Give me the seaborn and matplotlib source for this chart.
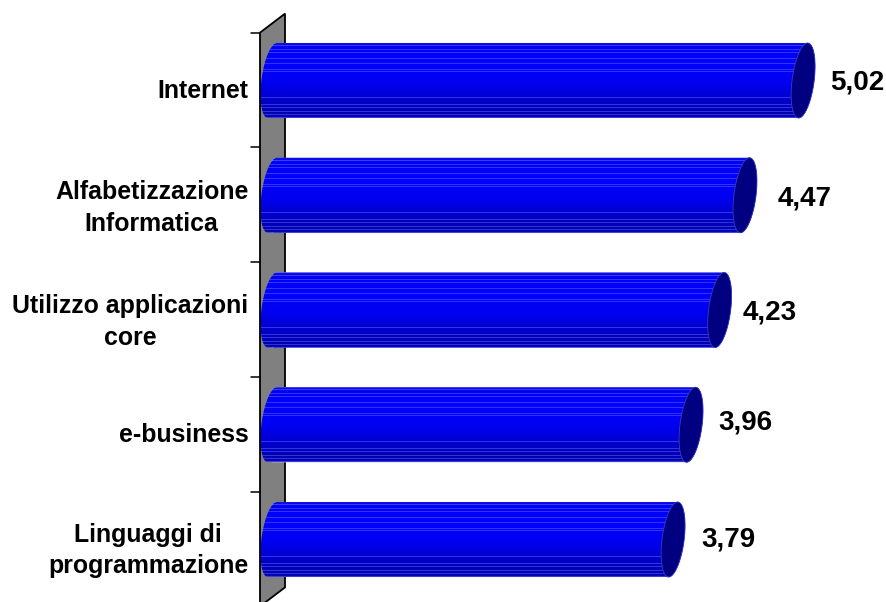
import numpy as np
import pandas as pd
import matplotlib
matplotlib.use("Agg")
import matplotlib.pyplot as plt
from matplotlib.patches import Polygon
from matplotlib.colors import to_rgb
import seaborn as sns

categories = ["Internet", "Alfabetizzazione\nInformatica", "Utilizzo applicazioni\ncore",
              "e-business", "Linguaggi di\nprogrammazione"]
values = [5.02, 4.47, 4.23, 3.96, 3.79]

# Shading of the cylinder from its top edge to its bottom edge: (fraction, colour)
shade_stops = [(0.00, "#1818e0"), (0.03, "#0808e8"), (0.08, "#0000f4"), (0.30, "#0000ff"),
               (0.55, "#0000ee"), (0.72, "#0000d0"), (0.95, "#0000b0"), (0.985, "#0000b8"),
               (1.00, "#3c3cd8")]
streaks = [0.04, 0.10, 0.14, 0.21, 0.28, 0.36, 0.39, 0.73, 0.83, 0.87, 0.92, 0.96]

# Hand placement of the value labels and of the category labels, in pixels
value_nudge = [(1, 4), (7, 5), (-3, 5), (1, 0), (2, 2)]
label_drop = [10.5, 13, 12, 10, 11]

sns.set_theme(style="white", rc={"font.family": ["Liberation Sans", "DejaVu Sans"]})
W, H = 887, 602
fig = plt.figure(figsize=(W / 100, H / 100), dpi=100)
ax = fig.add_axes([0, 0, 1, 1])

df = pd.DataFrame({"area": categories, "score": values})
sns.barplot(data=df, y="area", x="score", orient="h", width=0.654, color="#0000ff",
            saturation=1, ax=ax)

px_per_unit = 105.7
px_per_cat = 114.75
x0_px, y0_px = 272.5, 80.5
xlim = (-x0_px / px_per_unit, (W - x0_px) / px_per_unit)
ylim = ((H - y0_px) / px_per_cat, -y0_px / px_per_cat)
ax.set_xlim(xlim)
ax.set_ylim(ylim)
ax.axis("off")

ux, uy = 1 / px_per_unit, 1 / px_per_cat  # data units for one pixel

# Receding wall behind the bars
dx, dy = 12.5 * ux, 9.5 * uy
x_wall = 0.0
y_top, y_bot = -0.5, len(values) - 0.5
ax.add_patch(Polygon([(x_wall - dx, y_top + dy), (x_wall + dx, y_top - dy),
                      (x_wall + dx, y_bot - dy), (x_wall - dx, y_bot + dy)],
                     closed=True, fc="#808080", ec="black", lw=1.3, zorder=1))
for k in range(len(values) + 1):
    yk = k - 0.5 + dy
    ax.plot([x_wall - dx - 9 * ux, x_wall - dx], [yk, yk], color="black", lw=1.1, zorder=1)

# Vertical colour ramp shared by all cylinders
n = 75
fr = np.linspace(0, 1, n)
ramp = np.array([np.interp(fr, [s[0] for s in shade_stops],
                           [to_rgb(s[1])[c] for s in shade_stops]) for c in range(3)]).T
for s in streaks:
    i = int(round(s * (n - 1)))
    ramp[i] = np.clip(ramp[i] + np.array([0.2, 0.2, 0.12]), 0, 1)
ramp = ramp[:, None, :]

half_w, shear = 11.1 * ux, 4.5 * ux


def arc(cx, cy, half_h, t0, t1, num=60):
    """Points of a sheared end ellipse between the angles t0 and t1."""
    t = np.linspace(t0, t1, num)
    return np.column_stack([cx + half_w * np.cos(t) + shear * np.sin(t),
                            cy - half_h * np.sin(t)])


for patch, val, (nx, ny) in zip(ax.patches, values, value_nudge):
    cy = patch.get_y() + patch.get_height() / 2
    half_h = patch.get_height() / 2
    x_end = patch.get_x() + patch.get_width()
    # silhouette: far end bulges left, near end bulges right
    left = arc(0.0, cy, half_h, np.pi / 2, 3 * np.pi / 2)
    right = arc(x_end, cy, half_h, -np.pi / 2, np.pi / 2)
    outline = np.vstack([left, right])
    body = Polygon(outline, closed=True, fc="none", ec="none")
    ax.add_patch(body)
    patch.set_clip_path(body)
    patch.set_zorder(2)
    img = ax.imshow(ramp, extent=(outline[:, 0].min(), outline[:, 0].max(), cy + half_h, cy - half_h),
                    aspect="auto", interpolation="nearest", zorder=3)
    img.set_clip_path(body)
    # near end cap
    cap = arc(x_end, cy, half_h, 0, 2 * np.pi, 120)
    ax.add_patch(Polygon(cap, closed=True, fc="#000080", ec="#3a3ac0", lw=0.6, zorder=4))
    ax.text(x_end + (53 + nx) * ux, cy + (ny - 2) * uy, f"{val:.2f}".replace(".", ","),
            ha="center", va="center", fontsize=20, fontweight="bold", color="black", zorder=5)

ax.set_xlim(xlim)
ax.set_ylim(ylim)

for i, (label, drop) in enumerate(zip(categories, label_drop)):
    # multi-line labels are centred as a block, right edge aligned near the wall
    ax.text(x_wall - dx - 11.5 * ux, i + drop * uy, label, ha="right", va="center",
            multialignment="center", fontsize=17.9, fontweight="bold", color="black",
            linespacing=1.42, zorder=5)

fig.savefig("out.png", dpi=100, facecolor="white")
